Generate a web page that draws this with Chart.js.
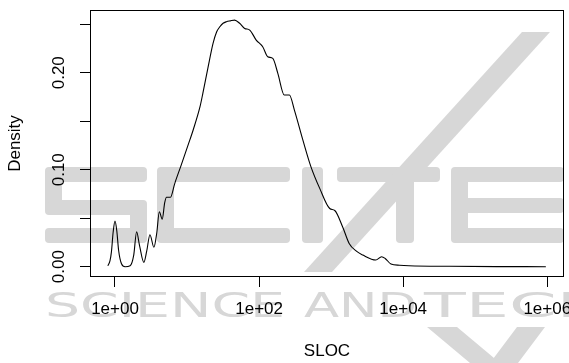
<!DOCTYPE html>
<html>
<head>
<meta charset="utf-8">
<script src="https://cdn.jsdelivr.net/npm/chart.js@4.4.1/dist/chart.umd.min.js"></script>
<style>
  html, body { margin: 0; padding: 0; background: #fff; }
  #chart { display: block; }
</style>
</head>
<body>
<canvas id="chart" width="569" height="363"></canvas>
<script>
// kernel density of SLOC (x in log10 units)
const slocLog10 = [
  -0.10, -0.07, -0.05, -0.025, 0.00, 0.025, 0.05, 0.09, 0.14, 0.21,
  0.26, 0.30, 0.34, 0.40, 0.44, 0.485, 0.54, 0.58, 0.615, 0.655,
  0.69, 0.715, 0.77, 0.83, 0.92, 1.04, 1.085, 1.18, 1.22, 1.29,
  1.36, 1.41, 1.455, 1.50, 1.547, 1.60, 1.66, 1.73, 1.80, 1.87,
  1.96, 2.05, 2.12, 2.19, 2.26, 2.35, 2.42, 2.49, 2.61, 2.72,
  2.84, 2.98, 3.05, 3.16, 3.25, 3.35, 3.44, 3.62, 3.70, 3.75,
  3.83, 3.95, 4.08, 4.64, 5.30, 5.98
];
const density = [
  0.001, 0.006, 0.015, 0.036, 0.047, 0.037, 0.017, 0.003, 0.000, 0.001,
  0.012, 0.036, 0.022, 0.0045, 0.016, 0.033, 0.020, 0.035, 0.0567, 0.049,
  0.066, 0.0716, 0.0716, 0.086, 0.105, 0.131, 0.141, 0.165, 0.179, 0.205,
  0.230, 0.242, 0.2474, 0.251, 0.2526, 0.2535, 0.2543, 0.251, 0.2457, 0.244,
  0.2337, 0.2268, 0.2165, 0.2148, 0.1994, 0.177, 0.177, 0.1615, 0.130, 0.103,
  0.081, 0.060, 0.058, 0.041, 0.024, 0.016, 0.012, 0.0069, 0.0103, 0.0085,
  0.0028, 0.0015, 0.001, 0.0004, 0.0001, 0.0000
];

const xTickValues = [1, 100, 10000, 1000000];
const xTickLabels = ['1e+00', '1e+02', '1e+04', '1e+06'];
const yTickValues = [0, 0.05, 0.10, 0.15, 0.20, 0.25];
const yTickLabels = ['0.00', '', '0.10', '', '0.20', ''];

const points = slocLog10.map((v, i) => ({ x: Math.pow(10, v), y: density[i] }));

const axisFont = { family: "'Liberation Sans', Arial, sans-serif", size: 17 };

// faint publisher watermark behind the plot
const watermark = {
  id: 'watermark',
  beforeDraw(chart) {
    const ctx = chart.ctx;
    ctx.save();
    ctx.fillStyle = '#d7d7d7';
    const bars = [
      // S
      [55, 167, 92, 15], [45, 167, 17, 48], [48, 200, 96, 15], [130, 200, 17, 43], [45, 228, 97, 15],
      // C
      [165, 167, 125, 15], [157, 167, 17, 76], [165, 228, 125, 15],
      // I
      [302, 167, 21, 76],
      // T
      [337, 167, 103, 15], [396, 167, 18, 76],
      // E
      [455, 167, 109, 15], [451, 167, 17, 76], [455, 198, 109, 15], [455, 228, 109, 15]
    ];
    bars.forEach(b => {
      ctx.beginPath();
      ctx.roundRect(b[0], b[1], b[2], b[3], 4);
      ctx.fill();
    });
    // diagonal stroke and lower chevron
    ctx.beginPath();
    ctx.moveTo(522, 32); ctx.lineTo(550, 32); ctx.lineTo(332, 272); ctx.lineTo(304, 272);
    ctx.closePath(); ctx.fill();
    ctx.beginPath();
    ctx.moveTo(427, 327); ctx.lineTo(457, 327); ctx.lineTo(500, 363); ctx.lineTo(470, 363);
    ctx.closePath(); ctx.fill();
    ctx.beginPath();
    ctx.moveTo(517, 327); ctx.lineTo(545, 327); ctx.lineTo(518, 363); ctx.lineTo(490, 363);
    ctx.closePath(); ctx.fill();

    ctx.font = "33px 'DejaVu Sans'";
    ctx.textBaseline = 'alphabetic';
    const word = (txt, x, w) => {
      const m = ctx.measureText(txt).width;
      ctx.save();
      ctx.translate(x, 317);
      ctx.scale(w / m, 1);
      ctx.fillText(txt, 0, 0);
      ctx.restore();
    };
    word('SCIENCE', 45, 240);
    word('AND', 304, 113);
    word('TECHNOLOGY', 424, 470);
    ctx.restore();
  }
};

const frame = {
  id: 'frame',
  afterDraw(chart) {
    const a = chart.chartArea;
    const ctx = chart.ctx;
    ctx.save();
    ctx.strokeStyle = '#000';
    ctx.lineWidth = 1;
    ctx.strokeRect(a.left + 0.5, a.top + 0.5, a.right - a.left - 1, a.bottom - a.top - 1);
    ctx.restore();
  }
};

new Chart(document.getElementById('chart'), {
  type: 'line',
  data: {
    datasets: [{
      data: points,
      borderColor: '#000',
      borderWidth: 1.1,
      pointRadius: 0,
      fill: false,
      cubicInterpolationMode: 'monotone'
    }]
  },
  options: {
    responsive: false,
    animation: false,
    devicePixelRatio: 1,
    layout: { padding: { top: 10, right: 5, left: 0, bottom: 0 } },
    plugins: {
      legend: { display: false },
      tooltip: { enabled: false }
    },
    scales: {
      x: {
        type: 'logarithmic',
        min: 0.4498,
        max: 1.706e6,
        afterBuildTicks: s => { s.ticks = xTickValues.map(v => ({ value: v })); },
        afterFit: s => { s.height = 86; s.paddingLeft = 0; s.paddingRight = 0; },
        grid: { drawOnChartArea: false, drawTicks: true, tickLength: 10, color: '#000', lineWidth: 1 },
        border: { display: false },
        ticks: {
          color: '#000',
          font: axisFont,
          padding: 12,
          autoSkip: false,
          minRotation: 0,
          maxRotation: 0,
          callback: (v, i) => xTickLabels[i]
        },
        title: { display: true, text: 'SLOC', color: '#000', font: axisFont, padding: { top: 0, bottom: 1 } }
      },
      y: {
        min: -0.01062,
        max: 0.2647,
        afterBuildTicks: s => { s.ticks = yTickValues.map(v => ({ value: v })); },
        afterFit: s => { s.width = 90; s.paddingTop = 0; s.paddingBottom = 0; },
        grid: { drawOnChartArea: false, drawTicks: true, tickLength: 10, color: '#000', lineWidth: 1 },
        border: { display: false },
        ticks: {
          color: '#000',
          font: axisFont,
          padding: 4,
          autoSkip: false,
          minRotation: 90,
          maxRotation: 90,
          crossAlign: 'center',
          callback: (v, i) => yTickLabels[i]
        },
        title: { display: true, text: 'Density', color: '#000', font: axisFont, padding: { top: 5.4, bottom: 0 } }
      }
    }
  },
  plugins: [watermark, frame]
});
</script>
</body>
</html>
